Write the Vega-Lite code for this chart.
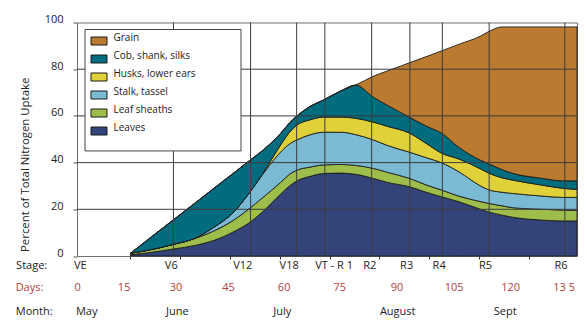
{
  "$schema": "https://vega.github.io/schema/vega-lite/v6.json",
  "width": 500,
  "height": 233.5,
  "autosize": "none",
  "padding": {"left": 77, "top": 22.5, "right": 10, "bottom": 75},
  "background": "white",
  "config": {
    "font": "Open Sans",
    "view": {"stroke": "#707070", "strokeWidth": 1}
  },
  "datasets": {
    "uptake": [
      {"day":15,"part":"Leaves","ord":1,"v":0.5},{"day":15,"part":"Leaf sheaths","ord":2,"v":0.7},{"day":15,"part":"Stalk, tassel","ord":3,"v":0},{"day":15,"part":"Husks, lower ears","ord":4,"v":0},{"day":15,"part":"Cob, shank, silks","ord":5,"v":0},{"day":15,"part":"Grain","ord":6,"v":0},
      {"day":20,"part":"Leaves","ord":1,"v":1.4},{"day":20,"part":"Leaf sheaths","ord":2,"v":1.1},{"day":20,"part":"Stalk, tassel","ord":3,"v":0},{"day":20,"part":"Husks, lower ears","ord":4,"v":0},{"day":20,"part":"Cob, shank, silks","ord":5,"v":4.7},{"day":20,"part":"Grain","ord":6,"v":0},
      {"day":27,"part":"Leaves","ord":1,"v":3.0},{"day":27,"part":"Leaf sheaths","ord":2,"v":2.0},{"day":27,"part":"Stalk, tassel","ord":3,"v":0},{"day":27,"part":"Husks, lower ears","ord":4,"v":0},{"day":27,"part":"Cob, shank, silks","ord":5,"v":10.5},{"day":27,"part":"Grain","ord":6,"v":0},
      {"day":33,"part":"Leaves","ord":1,"v":4.5},{"day":33,"part":"Leaf sheaths","ord":2,"v":3.0},{"day":33,"part":"Stalk, tassel","ord":3,"v":0.1},{"day":33,"part":"Husks, lower ears","ord":4,"v":0},{"day":33,"part":"Cob, shank, silks","ord":5,"v":15.0},{"day":33,"part":"Grain","ord":6,"v":0},
      {"day":38,"part":"Leaves","ord":1,"v":6.5},{"day":38,"part":"Leaf sheaths","ord":2,"v":4.0},{"day":38,"part":"Stalk, tassel","ord":3,"v":1.5},{"day":38,"part":"Husks, lower ears","ord":4,"v":0},{"day":38,"part":"Cob, shank, silks","ord":5,"v":16.6},{"day":38,"part":"Grain","ord":6,"v":0},
      {"day":44,"part":"Leaves","ord":1,"v":10.5},{"day":44,"part":"Leaf sheaths","ord":2,"v":5.0},{"day":44,"part":"Stalk, tassel","ord":3,"v":3.5},{"day":44,"part":"Husks, lower ears","ord":4,"v":0},{"day":44,"part":"Cob, shank, silks","ord":5,"v":16.7},{"day":44,"part":"Grain","ord":6,"v":0},
      {"day":48,"part":"Leaves","ord":1,"v":14},{"day":48,"part":"Leaf sheaths","ord":2,"v":6},{"day":48,"part":"Stalk, tassel","ord":3,"v":6.5},{"day":48,"part":"Husks, lower ears","ord":4,"v":0},{"day":48,"part":"Cob, shank, silks","ord":5,"v":14.0},{"day":48,"part":"Grain","ord":6,"v":0},
      {"day":52,"part":"Leaves","ord":1,"v":19},{"day":52,"part":"Leaf sheaths","ord":2,"v":6},{"day":52,"part":"Stalk, tassel","ord":3,"v":10},{"day":52,"part":"Husks, lower ears","ord":4,"v":0.3},{"day":52,"part":"Cob, shank, silks","ord":5,"v":9.9},{"day":52,"part":"Grain","ord":6,"v":0},
      {"day":57,"part":"Leaves","ord":1,"v":26.5},{"day":57,"part":"Leaf sheaths","ord":2,"v":5},{"day":57,"part":"Stalk, tassel","ord":3,"v":13},{"day":57,"part":"Husks, lower ears","ord":4,"v":3},{"day":57,"part":"Cob, shank, silks","ord":5,"v":5},{"day":57,"part":"Grain","ord":6,"v":0},
      {"day":59.5,"part":"Leaves","ord":1,"v":30},{"day":59.5,"part":"Leaf sheaths","ord":2,"v":5},{"day":59.5,"part":"Stalk, tassel","ord":3,"v":13},{"day":59.5,"part":"Husks, lower ears","ord":4,"v":5},{"day":59.5,"part":"Cob, shank, silks","ord":5,"v":4},{"day":59.5,"part":"Grain","ord":6,"v":0},
      {"day":62,"part":"Leaves","ord":1,"v":32.5},{"day":62,"part":"Leaf sheaths","ord":2,"v":4.5},{"day":62,"part":"Stalk, tassel","ord":3,"v":13},{"day":62,"part":"Husks, lower ears","ord":4,"v":6.5},{"day":62,"part":"Cob, shank, silks","ord":5,"v":4},{"day":62,"part":"Grain","ord":6,"v":0},
      {"day":65,"part":"Leaves","ord":1,"v":34},{"day":65,"part":"Leaf sheaths","ord":2,"v":4},{"day":65,"part":"Stalk, tassel","ord":3,"v":13.8},{"day":65,"part":"Husks, lower ears","ord":4,"v":6.4},{"day":65,"part":"Cob, shank, silks","ord":5,"v":5.6},{"day":65,"part":"Grain","ord":6,"v":0},
      {"day":69,"part":"Leaves","ord":1,"v":35.3},{"day":69,"part":"Leaf sheaths","ord":2,"v":3.7},{"day":69,"part":"Stalk, tassel","ord":3,"v":14},{"day":69,"part":"Husks, lower ears","ord":4,"v":6.5},{"day":69,"part":"Cob, shank, silks","ord":5,"v":7.3},{"day":69,"part":"Grain","ord":6,"v":0},
      {"day":74,"part":"Leaves","ord":1,"v":35.5},{"day":74,"part":"Leaf sheaths","ord":2,"v":3.7},{"day":74,"part":"Stalk, tassel","ord":3,"v":13.8},{"day":74,"part":"Husks, lower ears","ord":4,"v":6.5},{"day":74,"part":"Cob, shank, silks","ord":5,"v":11.3},{"day":74,"part":"Grain","ord":6,"v":0},
      {"day":78,"part":"Leaves","ord":1,"v":35},{"day":78,"part":"Leaf sheaths","ord":2,"v":3.8},{"day":78,"part":"Stalk, tassel","ord":3,"v":13.2},{"day":78,"part":"Husks, lower ears","ord":4,"v":7},{"day":78,"part":"Cob, shank, silks","ord":5,"v":14.2},{"day":78,"part":"Grain","ord":6,"v":0},
      {"day":83,"part":"Leaves","ord":1,"v":33.2},{"day":83,"part":"Leaf sheaths","ord":2,"v":4.3},{"day":83,"part":"Stalk, tassel","ord":3,"v":12.2},{"day":83,"part":"Husks, lower ears","ord":4,"v":7.6},{"day":83,"part":"Cob, shank, silks","ord":5,"v":10.7},{"day":83,"part":"Grain","ord":6,"v":9},
      {"day":87,"part":"Leaves","ord":1,"v":31.5},{"day":87,"part":"Leaf sheaths","ord":2,"v":4.3},{"day":87,"part":"Stalk, tassel","ord":3,"v":11.5},{"day":87,"part":"Husks, lower ears","ord":4,"v":8.2},{"day":87,"part":"Cob, shank, silks","ord":5,"v":9},{"day":87,"part":"Grain","ord":6,"v":14.8},
      {"day":93,"part":"Leaves","ord":1,"v":29.7},{"day":93,"part":"Leaf sheaths","ord":2,"v":3.6},{"day":93,"part":"Stalk, tassel","ord":3,"v":11.2},{"day":93,"part":"Husks, lower ears","ord":4,"v":8.2},{"day":93,"part":"Cob, shank, silks","ord":5,"v":6.8},{"day":93,"part":"Grain","ord":6,"v":23.2},
      {"day":98,"part":"Leaves","ord":1,"v":27.2},{"day":98,"part":"Leaf sheaths","ord":2,"v":3.1},{"day":98,"part":"Stalk, tassel","ord":3,"v":11.7},{"day":98,"part":"Husks, lower ears","ord":4,"v":6},{"day":98,"part":"Cob, shank, silks","ord":5,"v":7.5},{"day":98,"part":"Grain","ord":6,"v":30},
      {"day":102,"part":"Leaves","ord":1,"v":25.4},{"day":102,"part":"Leaf sheaths","ord":2,"v":2.9},{"day":102,"part":"Stalk, tassel","ord":3,"v":11.7},{"day":102,"part":"Husks, lower ears","ord":4,"v":4.1},{"day":102,"part":"Cob, shank, silks","ord":5,"v":8.6},{"day":102,"part":"Grain","ord":6,"v":35.1},
      {"day":107,"part":"Leaves","ord":1,"v":23.2},{"day":107,"part":"Leaf sheaths","ord":2,"v":2.4},{"day":107,"part":"Stalk, tassel","ord":3,"v":10.4},{"day":107,"part":"Husks, lower ears","ord":4,"v":5.5},{"day":107,"part":"Cob, shank, silks","ord":5,"v":5},{"day":107,"part":"Grain","ord":6,"v":44.2},
      {"day":113,"part":"Leaves","ord":1,"v":20},{"day":113,"part":"Leaf sheaths","ord":2,"v":3.3},{"day":113,"part":"Stalk, tassel","ord":3,"v":6.7},{"day":113,"part":"Husks, lower ears","ord":4,"v":7.3},{"day":113,"part":"Cob, shank, silks","ord":5,"v":3.7},{"day":113,"part":"Grain","ord":6,"v":53.2},
      {"day":115,"part":"Leaves","ord":1,"v":19},{"day":115,"part":"Leaf sheaths","ord":2,"v":3.6},{"day":115,"part":"Stalk, tassel","ord":3,"v":5.9},{"day":115,"part":"Husks, lower ears","ord":4,"v":7.2},{"day":115,"part":"Cob, shank, silks","ord":5,"v":4},{"day":115,"part":"Grain","ord":6,"v":56.2},
      {"day":119,"part":"Leaves","ord":1,"v":17.5},{"day":119,"part":"Leaf sheaths","ord":2,"v":4},{"day":119,"part":"Stalk, tassel","ord":3,"v":5.8},{"day":119,"part":"Husks, lower ears","ord":4,"v":6.2},{"day":119,"part":"Cob, shank, silks","ord":5,"v":3.5},{"day":119,"part":"Grain","ord":6,"v":61.1},
      {"day":122,"part":"Leaves","ord":1,"v":16.6},{"day":122,"part":"Leaf sheaths","ord":2,"v":4.1},{"day":122,"part":"Stalk, tassel","ord":3,"v":6.1},{"day":122,"part":"Husks, lower ears","ord":4,"v":5.7},{"day":122,"part":"Cob, shank, silks","ord":5,"v":2.9},{"day":122,"part":"Grain","ord":6,"v":62.7},
      {"day":130,"part":"Leaves","ord":1,"v":15.4},{"day":130,"part":"Leaf sheaths","ord":2,"v":4.6},{"day":130,"part":"Stalk, tassel","ord":3,"v":5.7},{"day":130,"part":"Husks, lower ears","ord":4,"v":4.7},{"day":130,"part":"Cob, shank, silks","ord":5,"v":2.9},{"day":130,"part":"Grain","ord":6,"v":64.8},
      {"day":136,"part":"Leaves","ord":1,"v":15},{"day":136,"part":"Leaf sheaths","ord":2,"v":4.7},{"day":136,"part":"Stalk, tassel","ord":3,"v":5.4},{"day":136,"part":"Husks, lower ears","ord":4,"v":3.9},{"day":136,"part":"Cob, shank, silks","ord":5,"v":3.2},{"day":136,"part":"Grain","ord":6,"v":65.9},
      {"day":140,"part":"Leaves","ord":1,"v":15},{"day":140,"part":"Leaf sheaths","ord":2,"v":4.5},{"day":140,"part":"Stalk, tassel","ord":3,"v":5.6},{"day":140,"part":"Husks, lower ears","ord":4,"v":3.4},{"day":140,"part":"Cob, shank, silks","ord":5,"v":3.7},{"day":140,"part":"Grain","ord":6,"v":65.9}
    ],
    "stageLines": [{"pos":27.0},{"pos":48.6},{"pos":61.5},{"pos":69.4},{"pos":82.5},{"pos":93.2},{"pos":102.3},{"pos":115.4},{"pos":136.6}],
    "hLines": [{"v":20},{"v":40},{"v":60},{"v":80}],
    "stageLabels": [{"pos":-12.7,"t":"Stage:"},{"pos":0.9,"t":"VE"},{"pos":26.4,"t":"V6"},{"pos":46.4,"t":"V12"},{"pos":59.4,"t":"V18"},{"pos":72.0,"t":"VT - R 1"},{"pos":82.0,"t":"R2"},{"pos":92.3,"t":"R3"},{"pos":101.4,"t":"R4"},{"pos":114.4,"t":"R5"},{"pos":135.5,"t":"R6"}],
    "dayLabels": [{"pos":-13.3,"t":"Days:"},{"pos":0.2,"t":"0"},{"pos":13.2,"t":"15"},{"pos":27.7,"t":"30"},{"pos":42.4,"t":"45"},{"pos":58.0,"t":"60"},{"pos":73.6,"t":"75"},{"pos":89.6,"t":"90"},{"pos":105.6,"t":"105"},{"pos":121.4,"t":"120"},{"pos":136.4,"t":"13 5"}],
    "monthLabels": [{"pos":-12.0,"t":"Month:"},{"pos":2.7,"t":"May"},{"pos":28.1,"t":"June"},{"pos":57.5,"t":"July"},{"pos":89.8,"t":"August"},{"pos":119.9,"t":"Sept"}]
  },
  "layer": [
    {
      "data": {"name": "uptake"},
      "mark": {"type": "area", "interpolate": "monotone", "stroke": "#1c1c1c", "strokeWidth": 0.9, "strokeJoin": "round", "opacity": 1},
      "encoding": {
        "x": {"field": "day", "type": "quantitative", "title": null, "scale": {"domain": [0, 140], "nice": false, "zero": false},
          "axis": {"values": [14.91,18.4,21.89,25.38,28.86,32.35,35.84,39.33,42.82,46.31,49.79,53.28,56.77,60.26,63.75,67.24,70.72,74.21,77.7,81.19,84.68,88.17,91.65,95.14,98.63,102.12,105.61,109.1,112.58,116.07,119.56,123.05,126.54,130.03,133.51,137.0],
            "labels": false, "domain": false, "grid": false, "ticks": true, "tickSize": 3, "tickColor": "#333", "title": null}},
        "y": {"field": "v", "type": "quantitative", "stack": "zero", "title": "Percent of Total Nitrogen Uptake", "scale": {"domain": [0, 100], "nice": false},
          "axis": {"values": [0,20,40,60,80,100], "grid": false, "domain": false, "tickSize": 4, "tickColor": "#555",
            "labelFontSize": 11, "labelColor": "#222", "labelPadding": 10, "labelBaseline": "alphabetic", "labelFont": "Open Sans",
            "title": "Percent of Total Nitrogen Uptake", "titleFontSize": 11.4, "titleFontWeight": "normal", "titleColor": "#222", "titleFont": "Open Sans",
            "titleAnchor": "start", "titleY": 229, "titlePadding": 14}},
        "color": {"field": "part", "type": "nominal",
          "scale": {"domain": ["Grain","Cob, shank, silks","Husks, lower ears","Stalk, tassel","Leaf sheaths","Leaves"],
                    "range": ["#BA7A2F","#016C7E","#E0D13B","#7ABAD3","#9FBD4B","#33447A"]},
          "legend": {"orient": "none", "legendX": 13.5, "legendY": 10, "title": null, "padding": 0,
            "symbolType": "M-1,-0.5H1V0.5H-1Z", "symbolSize": 256, "symbolStrokeColor": "#1a1a1a", "symbolStrokeWidth": 1, "symbolOpacity": 1,
            "rowPadding": 3, "labelOffset": 6, "labelFontSize": 10, "labelColor": "#222", "labelBaseline": "alphabetic", "labelFont": "Open Sans"}},
        "order": {"field": "ord", "type": "quantitative"}
      }
    },
    {
      "data": {"name": "stageLines"},
      "mark": {"type": "rule", "color": "#3c3c3c", "strokeWidth": 1},
      "encoding": {"x": {"field": "pos", "type": "quantitative"}}
    },
    {
      "data": {"name": "hLines"},
      "mark": {"type": "rule", "color": "#3c3c3c", "strokeWidth": 1},
      "encoding": {"y": {"field": "v", "type": "quantitative"}}
    },
    {
      "data": {"values": [{}]},
      "mark": {"type": "rect", "fill": "white", "stroke": "#444", "strokeWidth": 1},
      "encoding": {
        "x": {"datum": 2.24, "type": "quantitative"},
        "x2": {"datum": 45.92},
        "y": {"datum": 97.0, "type": "quantitative"},
        "y2": {"datum": 45.0}
      }
    },
    {
      "data": {"name": "stageLabels"},
      "mark": {"type": "text", "dy": 13.4, "baseline": "alphabetic", "align": "center", "fontSize": 11, "fill": "#222", "font": "Open Sans"},
      "encoding": {"x": {"field": "pos", "type": "quantitative"}, "y": {"datum": 0, "type": "quantitative"}, "text": {"field": "t"}}
    },
    {
      "data": {"name": "dayLabels"},
      "mark": {"type": "text", "dy": 35.3, "baseline": "alphabetic", "align": "center", "fontSize": 11, "fill": "#B0423E", "font": "Open Sans"},
      "encoding": {"x": {"field": "pos", "type": "quantitative"}, "y": {"datum": 0, "type": "quantitative"}, "text": {"field": "t"}}
    },
    {
      "data": {"name": "monthLabels"},
      "mark": {"type": "text", "dy": 58.5, "baseline": "alphabetic", "align": "center", "fontSize": 11, "fill": "#222", "font": "Open Sans"},
      "encoding": {"x": {"field": "pos", "type": "quantitative"}, "y": {"datum": 0, "type": "quantitative"}, "text": {"field": "t"}}
    }
  ]
}
